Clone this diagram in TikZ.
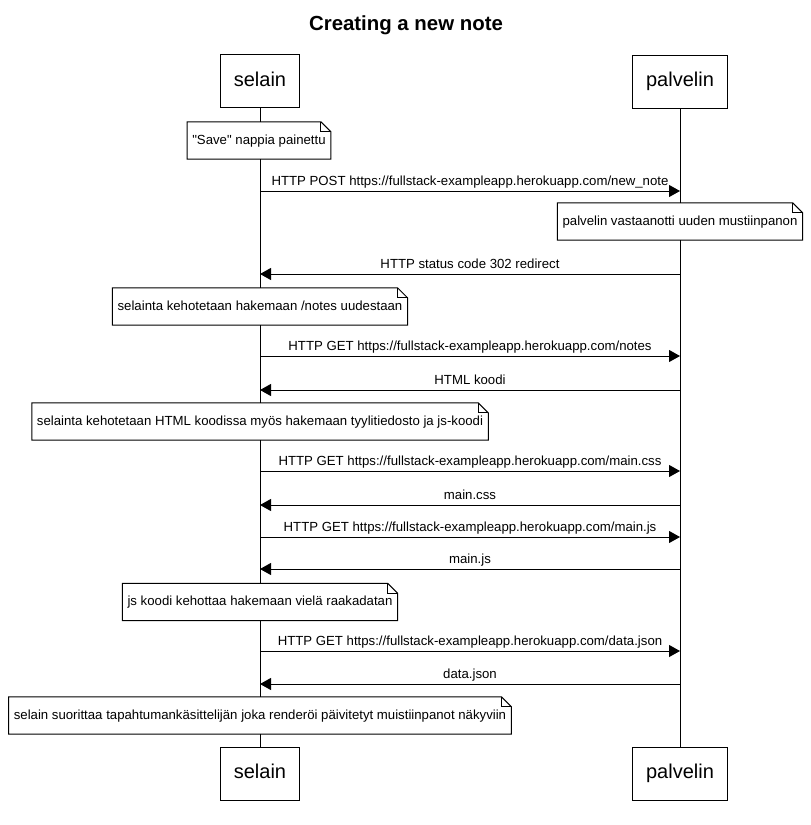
\documentclass[tikz,border=0pt]{standalone}
\usepackage{fontspec}
\setmainfont{Liberation Sans}[Ligatures=TeXOff]
\usetikzlibrary{arrows.meta}

% outline of a note with a folded top-right corner, drawn around node #1
\newcommand{\notefold}[1]{%
  \draw[noteline] (#1.south west) -- (#1.north west) -- ([xshift=-10pt]#1.north east)
    -- ([yshift=-10pt]#1.north east) -- (#1.south east) -- cycle;
  \draw[noteline] ([xshift=-10pt]#1.north east) -- ([xshift=-10pt,yshift=-10pt]#1.north east)
    -- ([yshift=-10pt]#1.north east);
}

\begin{document}
\begin{tikzpicture}[x=1pt,y=-1pt,
  actor/.style={draw, line width=1pt, fill=white, inner xsep=13.5pt, inner ysep=0pt,
    minimum height=53pt, text height=14pt, text depth=4pt,
    font=\fontsize{20}{24}\selectfont},
  notebox/.style={fill=white, inner xsep=5pt, inner ysep=0pt, minimum height=37pt,
    text height=10pt, text depth=3pt, font=\fontsize{13.2}{15}\selectfont},
  noteline/.style={line width=1pt, line join=miter},
  lifeline/.style={line width=1pt},
  msg/.style={line width=1pt, -{Triangle[length=11pt,width=12pt]}},
  lbl/.style={midway, anchor=south, inner sep=0pt, yshift=2pt,
    text height=10pt, text depth=3pt, font=\fontsize{13.2}{15}\selectfont}
]
\useasboundingbox (0,0) rectangle (811,825);

% title
\node[font=\fontsize{20.4}{24}\selectfont\bfseries] (title) at (406,25) {Creating a new note};

% participants
\node[actor] (selTop) at (260,81) {selain};
\node[actor] (palTop) at (680,81.5) {palvelin};
\node[actor] (selBot) at (260,773.5) {selain};
\node[actor] (palBot) at (680,773.5) {palvelin};

% lifelines
\draw[lifeline] (selTop.south) -- (selBot.north);
\draw[lifeline] (palTop.south) -- (palBot.north);

% notes
\node[notebox] (n1) at (259,140.5) {"Save" nappia painettu};
\notefold{n1}
\node[notebox] (n2) at (680,221.5) {palvelin vastaanotti uuden mustiinpanon};
\notefold{n2}
\node[notebox] (n3) at (260,306.5) {selainta kehotetaan hakemaan /notes uudestaan};
\notefold{n3}
\node[notebox] (n4) at (260,421.5) {selainta kehotetaan HTML koodissa myös hakemaan tyylitiedosto ja js-koodi};
\notefold{n4}
\node[notebox] (n5) at (260,602) {js koodi kehottaa hakemaan vielä raakadatan};
\notefold{n5}
\node[notebox] (n6) at (260,715.5) {selain suorittaa tapahtumankäsittelijän joka renderöi päivitetyt muistiinpanot näkyviin};
\notefold{n6}

% messages
\draw[msg] (selTop.south |- 0,191) -- node[lbl] {HTTP POST https://fullstack-exampleapp.herokuapp.com/new\_note} (palTop.south |- 0,191);
\draw[msg] (palTop.south |- 0,274) -- node[lbl] {HTTP status code 302 redirect} (selTop.south |- 0,274);
\draw[msg] (selTop.south |- 0,356) -- node[lbl] {HTTP GET https://fullstack-exampleapp.herokuapp.com/notes} (palTop.south |- 0,356);
\draw[msg] (palTop.south |- 0,390) -- node[lbl] {HTML koodi} (selTop.south |- 0,390);
\draw[msg] (selTop.south |- 0,471) -- node[lbl] {HTTP GET https://fullstack-exampleapp.herokuapp.com/main.css} (palTop.south |- 0,471);
\draw[msg] (palTop.south |- 0,505) -- node[lbl] {main.css} (selTop.south |- 0,505);
\draw[msg] (selTop.south |- 0,537) -- node[lbl] {HTTP GET https://fullstack-exampleapp.herokuapp.com/main.js} (palTop.south |- 0,537);
\draw[msg] (palTop.south |- 0,569) -- node[lbl] {main.js} (selTop.south |- 0,569);
\draw[msg] (selTop.south |- 0,651) -- node[lbl] {HTTP GET https://fullstack-exampleapp.herokuapp.com/data.json} (palTop.south |- 0,651);
\draw[msg] (palTop.south |- 0,684) -- node[lbl] {data.json} (selTop.south |- 0,684);
\end{tikzpicture}
\end{document}
